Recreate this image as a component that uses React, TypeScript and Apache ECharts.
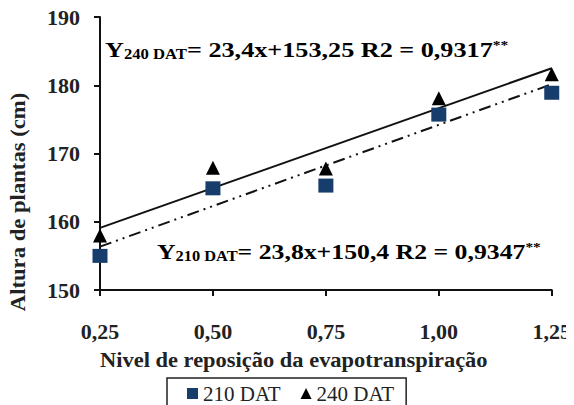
import React, { useEffect, useRef } from "react";
import * as echarts from "echarts";

const xLevels = [0.25, 0.5, 0.75, 1.0, 1.25];
const dat210 = [155.0, 164.9, 165.3, 175.7, 178.9];
const dat240 = [158.0, 167.9, 167.8, 178.1, 181.6];
const trendX = [0.25, 1.25];
const trend210 = [156.35, 180.15];
const trend240 = [159.1, 182.5];
const seriesNames = ["210 DAT", "240 DAT"];
const yTicks = { min: 150, max: 190, step: 10 };
const xTicks = { min: 0.25, max: 1.25, step: 0.25 };

const SERIF = "Liberation Serif";

export default function App() {
  const ref = useRef<HTMLDivElement>(null);
  useEffect(() => {
    if (!ref.current) return;
    const chart = echarts.init(ref.current, null, { renderer: "svg" });
    const eqRich = {
      a: { fontFamily: SERIF, fontWeight: "bold", fontSize: 22, color: "#111" },
      b: { fontFamily: SERIF, fontWeight: "bold", fontSize: 14, color: "#111", verticalAlign: "bottom", padding: [9, 0, 0, 0] },
      c: { fontFamily: SERIF, fontWeight: "bold", fontSize: 13, color: "#777", verticalAlign: "top", padding: [0, 0, 6, 0] },
    };
    chart.setOption({
      animation: false,
      backgroundColor: "#fff",
      textStyle: { fontFamily: SERIF },
      grid: { left: 100, right: 21, top: 17, bottom: 115 },
      xAxis: {
        type: "value",
        min: xTicks.min,
        max: xTicks.max,
        interval: xTicks.step,
        axisLine: { lineStyle: { color: "#111", width: 2 } },
        axisTick: { show: true, length: 6, lineStyle: { color: "#111", width: 2 } },
        splitLine: { show: false },
        axisLabel: {
          margin: 30,
          fontFamily: SERIF,
          fontWeight: "bold",
          fontSize: 22,
          color: "#222",
          formatter: (v: number) => v.toFixed(2).replace(".", ","),
        },
      },
      yAxis: {
        type: "value",
        min: yTicks.min,
        max: yTicks.max,
        interval: yTicks.step,
        axisLine: { show: true, lineStyle: { color: "#111", width: 2 } },
        axisTick: { show: true, length: 6, lineStyle: { color: "#111", width: 2 } },
        splitLine: { show: false },
        axisLabel: {
          margin: 20,
          fontFamily: SERIF,
          fontWeight: "bold",
          fontSize: 22,
          color: "#222",
        },
      },
      legend: {
        data: [
          { name: seriesNames[0], icon: "rect" },
          { name: seriesNames[1], icon: "triangle" },
        ],
        left: 167,
        top: 378,
        itemWidth: 11,
        itemHeight: 11,
        itemGap: 20,
        borderColor: "#222",
        borderWidth: 1.5,
        padding: [5, 12, 30, 20],
        textStyle: { fontFamily: SERIF, fontSize: 21, color: "#222" },
      },
      graphic: [
        {
          type: "text",
          x: 105,
          y: 38,
          scaleX: 1.19,
          style: {
            text: "{a|Y}{b|240 DAT}{a|= 23,4x+153,25 R2 = 0,9317}{c|**}",
            rich: eqRich,
            align: "left",
            verticalAlign: "top",
          },
        },
        {
          type: "text",
          x: 157,
          y: 240,
          scaleX: 1.17,
          style: {
            text: "{a|Y}{b|210 DAT}{a|= 23,8x+150,4 R2 = 0,9347}{c|**}",
            rich: eqRich,
            align: "left",
            verticalAlign: "top",
          },
        },
        {
          type: "text",
          x: 100,
          y: 360,
          scaleX: 1.07,
          style: {
            text: "Nivel de reposição da evapotranspiração",
            fontFamily: SERIF,
            fontWeight: "bold",
            fontSize: 21,
            fill: "#222",
            align: "left",
            verticalAlign: "middle",
          },
        },
        {
          type: "text",
          x: 18,
          y: 202,
          rotation: Math.PI / 2,
          scaleX: 1.08,
          style: {
            text: "Altura de plantas (cm)",
            fontFamily: SERIF,
            fontWeight: "bold",
            fontSize: 21,
            fill: "#222",
            align: "center",
            verticalAlign: "middle",
          },
        },
      ],
      series: [
        {
          name: "trend240",
          type: "line",
          data: trendX.map((x, i) => [x, trend240[i]]),
          symbol: "none",
          lineStyle: { color: "#111", width: 2, type: "solid" },
          z: 2,
        },
        {
          name: "trend210",
          type: "line",
          data: trendX.map((x, i) => [x, trend210[i]]),
          symbol: "none",
          lineStyle: { color: "#111", width: 2, type: [12, 5, 2, 5, 2, 5] },
          z: 2,
        },
        {
          name: seriesNames[0],
          type: "scatter",
          data: xLevels.map((x, i) => [x, dat210[i]]),
          symbol: "rect",
          symbolSize: [15, 14],
          itemStyle: { color: "#173d6c", opacity: 1 },
          z: 4,
        },
        {
          name: seriesNames[1],
          type: "scatter",
          data: xLevels.map((x, i) => [x, dat240[i]]),
          symbol: "triangle",
          symbolSize: [14, 14],
          itemStyle: { color: "#000", opacity: 1 },
          z: 3,
        },
      ],
    });
    return () => chart.dispose();
  }, []);
  return <div ref={ref} style={{ width: 574, height: 405, marginLeft: -8, marginTop: -8 }} />;
}
